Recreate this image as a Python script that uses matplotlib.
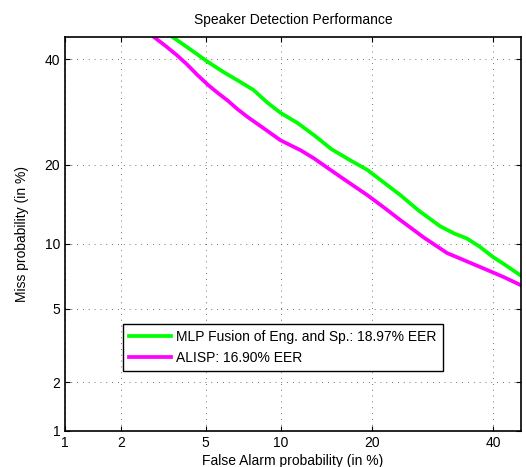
import matplotlib
matplotlib.use("Agg")
import matplotlib.pyplot as plt
import numpy as np
from statistics import NormalDist

plt.rcParams['font.family'] = ['Liberation Sans', 'DejaVu Sans']

# DET curve points, in percent
mlp_fa = [3.55, 4.3, 5.1, 5.96, 6.9, 7.88, 8.9, 9.98, 11.5, 13.2, 15.0,
          17.2, 19.4, 21.6, 24.1, 27.0, 30.5, 33.0, 35.2, 37.5, 40.0, 42.5, 45.3]
mlp_miss = [44.8, 42.0, 39.4, 37.2, 35.3, 33.5, 31.0, 29.0, 27.1, 24.8, 22.5,
            20.7, 19.2, 17.4, 15.6, 13.6, 11.8, 11.0, 10.5, 9.7, 8.74, 8.0, 7.2]

alisp_fa = [2.9, 3.3, 3.7, 4.1, 4.6, 5.1, 5.6, 6.19, 6.8, 7.47, 8.7, 9.98, 11.8, 13.1,
            15.2, 17.2, 19.4, 21.7, 24.1, 27.8, 31.7, 35.0, 38.9, 42.0, 45.3]
alisp_miss = [44.8, 42.8, 40.9, 39.0, 36.6, 34.6, 33.0, 31.4, 29.7, 28.2, 26.0, 24.0, 22.3, 21.0,
              18.9, 17.2, 15.6, 14.0, 12.5, 10.6, 9.1, 8.4, 7.65, 7.1, 6.5]

labels = ["MLP Fusion of Eng. and Sp.: 18.97% EER", "ALISP: 16.90% EER"]
ticks = [1, 2, 5, 10, 20, 40]

nd = NormalDist()
_ppf = np.vectorize(nd.inv_cdf, otypes=[float])
_cdf = np.vectorize(nd.cdf, otypes=[float])


def probit(p):
    p = np.clip(np.asarray(p, dtype=float) / 100.0, 1e-9, 1 - 1e-9)
    return _ppf(p)


def inv_probit(z):
    return _cdf(np.asarray(z, dtype=float)) * 100.0


fig = plt.figure(figsize=(5.26, 4.67), dpi=100)
ax = fig.add_axes([65 / 526, 1 - 431 / 467, 456 / 526, 394 / 467])

ax.set_xscale('function', functions=(probit, inv_probit))
ax.set_yscale('function', functions=(probit, inv_probit))

ax.plot(mlp_fa, mlp_miss, color='#00ff00', lw=2.7, label=labels[0])
ax.plot(alisp_fa, alisp_miss, color='#ff00ff', lw=2.7, label=labels[1])

ax.set_xlim(1, 45.3)
ax.set_ylim(1, 44.8)
ax.set_xticks(ticks)
ax.set_yticks(ticks)
ax.set_xticklabels([str(t) for t in ticks])
ax.set_yticklabels([str(t) for t in ticks])
ax.minorticks_off()
ax.tick_params(direction='in', top=True, right=True, labelsize=10, length=3.5, width=0.8)
ax.grid(True, linestyle=(0, (1, 6)), color='#444444', linewidth=0.6)

for s in ax.spines.values():
    s.set_linewidth(1.2)

ax.set_title("Speaker Detection Performance", fontsize=10, pad=9)
ax.set_xlabel("False Alarm probability (in %)", fontsize=10, labelpad=3)
ax.set_ylabel("Miss probability (in %)", fontsize=10, labelpad=11)

leg = ax.legend(loc='lower left', bbox_to_anchor=(0.127, 0.152), fontsize=10,
                fancybox=False, framealpha=1, edgecolor='black', borderaxespad=0,
                handlelength=3.0, borderpad=0.45, labelspacing=0.5, handletextpad=0.4)
leg.get_frame().set_linewidth(1.0)

fig.savefig("out.png", dpi=100)
